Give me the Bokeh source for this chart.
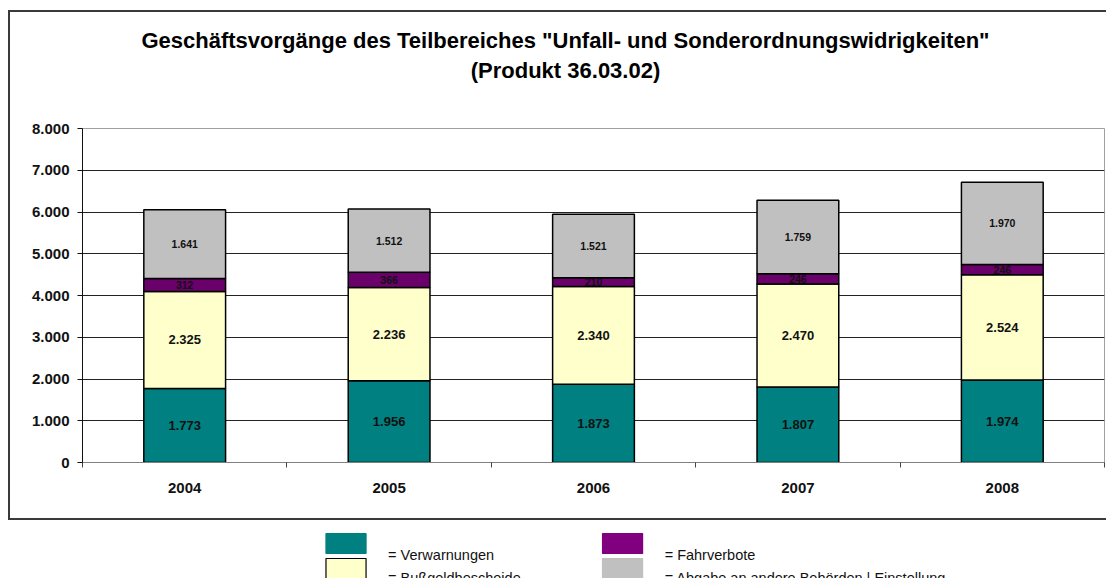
from bokeh.plotting import figure
from bokeh.layouts import column
from bokeh.models import ColumnDataSource, FixedTicker, Range1d
from bokeh.core.properties import value
from bokeh.embed import file_html
from bokeh.resources import INLINE

years = ["2004", "2005", "2006", "2007", "2008"]
verwarnungen = [1773, 1956, 1873, 1807, 1974]
bussgeld = [2325, 2236, 2340, 2470, 2524]
fahrverbote = [312, 366, 210, 246, 246]
abgabe = [1641, 1512, 1521, 1759, 1970]
y_ticks = [0, 1000, 2000, 3000, 4000, 5000, 6000, 7000, 8000]

series_names = ["verwarnungen", "bussgeld", "fahrverbote", "abgabe"]
series_values = [verwarnungen, bussgeld, fahrverbote, abgabe]
legend_labels = ["= Verwarnungen", "= Bußgeldbescheide", "= Fahrverbote",
                 "= Abgabe an andere Behörden | Einstellung"]
bar_colors = ["#008080", "#FFFFCC", "#6A006A", "#C0C0C0"]
legend_colors = ["#008080", "#FFFFCC", "#800080", "#C0C0C0"]
legend_lines = ["#008080", "#000000", "#800080", "#C0C0C0"]
title_lines = ['Geschäftsvorgänge des Teilbereiches "Unfall- und Sonderordnungswidrigkeiten"',
               "(Produkt 36.03.02)"]


def de_fmt(v):
    return f"{int(v):,}".replace(",", ".")


FONT = "Liberation Sans"
BORDER = "2px solid #3a3a3a"
W = 1098
# frames of all three figures are aligned by the column layout (page px)
FRAME_L, FRAME_R = 82, 1104

# ---------------- header (title) ----------------
HEAD_H = 110
h = figure(width=W, height=HEAD_H, output_backend="svg", toolbar_location=None,
           title=None, x_axis_location=None, y_axis_location=None,
           x_range=Range1d(FRAME_L, FRAME_R), y_range=Range1d(HEAD_H, 0),
           min_border=0, margin=(10, 0, 0, 8),
           styles={"border-top": BORDER, "border-left": BORDER})
h.outline_line_color = None
h.xgrid.grid_line_color = None
h.ygrid.grid_line_color = None
h.text(x=[565, 565], y=[28, 58], text=title_lines, text_align="center",
       text_baseline="middle", text_font=value(FONT), text_font_style="bold",
       text_font_size="22px", text_color="#000000")

# ---------------- chart ----------------
xs = [i + 0.5 for i in range(len(years))]
data = {"x": xs}
for n, vals in zip(series_names, series_values):
    data[n] = vals
source = ColumnDataSource(data)

p = figure(width=W, height=400, output_backend="svg", toolbar_location=None,
           title=None, x_range=Range1d(0, len(years)), y_range=Range1d(0, 8000),
           min_border_left=72, min_border_right=4, min_border_top=8,
           min_border_bottom=58, margin=(0, 0, 0, 8),
           styles={"border-left": BORDER, "border-bottom": BORDER})
p.background_fill_color = "white"
p.border_fill_color = "white"
p.outline_line_color = "#A0A0A0"
p.outline_line_width = 1

p.vbar_stack(series_names, x="x", width=0.4, source=source,
             fill_color=bar_colors, line_color="#000000", line_width=1.5)

# data labels
cum = [0] * len(years)
lab_x, lab_y, lab_t, lab_s = [], [], [], []
for k, vals in enumerate(series_values):
    for i, v in enumerate(vals):
        lab_x.append(xs[i])
        lab_y.append(cum[i] + v / 2)
        lab_t.append(de_fmt(v))
        lab_s.append("13px" if k < 2 else "10.5px")
        cum[i] += v
lsrc = ColumnDataSource(dict(x=lab_x, y=lab_y, t=lab_t, s=lab_s))
p.text(x="x", y="y", text="t", source=lsrc, text_align="center",
       text_baseline="middle", text_font=value(FONT), text_font_style="bold",
       text_font_size="s", text_color="#111111")

# axes
p.yaxis.ticker = FixedTicker(ticks=y_ticks)
p.yaxis.major_label_overrides = {t: de_fmt(t) for t in y_ticks}
p.yaxis.major_label_text_font = FONT
p.yaxis.major_label_text_font_style = "bold"
p.yaxis.major_label_text_font_size = "15px"
p.yaxis.major_label_text_color = "#111111"
p.yaxis.major_tick_out = 5
p.yaxis.major_tick_in = 0
p.yaxis.minor_tick_line_color = None
p.yaxis.axis_line_color = "#111111"
p.yaxis.major_tick_line_color = "#111111"
p.yaxis.major_label_standoff = 8

p.xaxis.ticker = FixedTicker(ticks=xs, minor_ticks=list(range(len(years) + 1)))
p.xaxis.major_label_overrides = {x: y for x, y in zip(xs, years)}
p.xaxis.major_label_text_font = FONT
p.xaxis.major_label_text_font_style = "bold"
p.xaxis.major_label_text_font_size = "15px"
p.xaxis.major_label_text_color = "#111111"
p.xaxis.major_tick_line_color = None
p.xaxis.minor_tick_out = 5
p.xaxis.minor_tick_in = 0
p.xaxis.minor_tick_line_color = "#444444"
p.xaxis.axis_line_color = "#808080"
p.xaxis.major_label_standoff = 14

p.xgrid.grid_line_color = None
p.ygrid.grid_line_color = "#222222"
p.ygrid.grid_line_width = 1

# ---------------- legend (below the chart box) ----------------
LEG_H = 58
q = figure(width=1100, height=LEG_H, output_backend="svg", toolbar_location=None,
           title=None, x_axis_location=None, y_axis_location=None,
           x_range=Range1d(FRAME_L, FRAME_R), y_range=Range1d(LEG_H, 0),
           min_border=0, margin=(0, 0, 0, 8))
q.outline_line_color = None
q.xgrid.grid_line_color = None
q.ygrid.grid_line_color = None

col_left = [327, 603]
row_top = [13, 38]
text_base = [34, 57]
sw_l, sw_r, sw_t, sw_b, tx, ty = [], [], [], [], [], []
for k in range(len(legend_labels)):
    c, r = k // 2, k % 2
    sw_l.append(col_left[c])
    sw_r.append(col_left[c] + 40)
    sw_t.append(row_top[r])
    sw_b.append(row_top[r] + 20)
    tx.append(col_left[c] + 62)
    ty.append(text_base[r])
q.quad(left=sw_l, right=sw_r, top=sw_t, bottom=sw_b,
       fill_color=legend_colors, line_color=legend_lines, line_width=1.2)
q.text(x=tx, y=ty, text=legend_labels, text_align="left",
       text_baseline="alphabetic", text_font=value(FONT),
       text_font_size="14.5px", text_color="#111111")

html = file_html(column(h, p, q, spacing=0), INLINE)
open("out.html", "w").write(html)
